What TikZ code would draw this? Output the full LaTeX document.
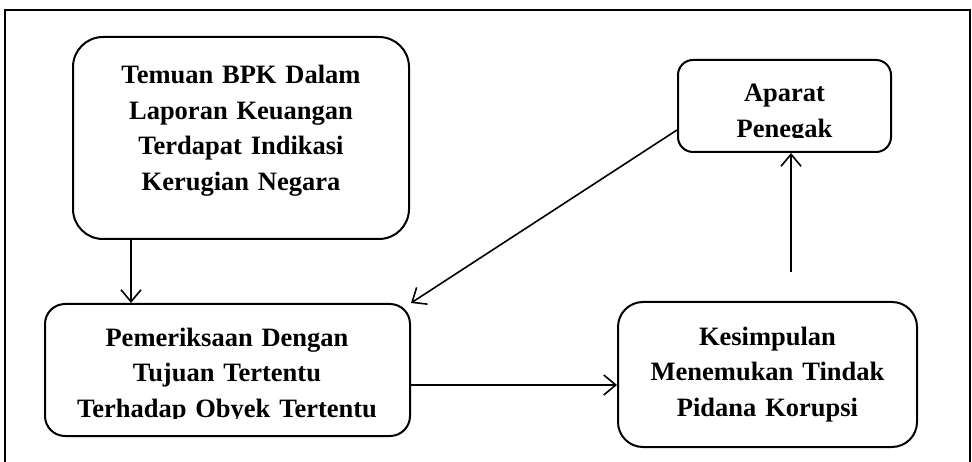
\documentclass[tikz,border=0pt]{standalone}
\usepackage{fontspec}
\setmainfont{Liberation Serif}
\usetikzlibrary{arrows.meta}
\begin{document}
\begin{tikzpicture}[x=1pt, y=-1pt, >={Straight Barb[length=12pt,width=20pt]},
  kotak/.style={draw, line width=2pt, inner sep=0pt},
  teks/.style={anchor=base, align=center, inner sep=0pt, font=\fontsize{26.5}{35.5}\selectfont\bfseries},
  panah/.style={->, line width=1.6pt}]
\useasboundingbox (0,0) rectangle (972,462);
% bingkai luar
\draw[line width=2.2pt] (5,462) -- (5,10) -- (970,10) -- (970,462);

% kotak-kotak
\node[kotak, rounded corners=30pt, minimum width=336pt, minimum height=202pt] (temuan) at (241,138) {};
\node[kotak, rounded corners=15pt, minimum width=213pt, minimum height=92pt] (aparat) at (784.5,106) {};
\node[kotak, rounded corners=20pt, minimum width=365pt, minimum height=132pt] (pemeriksaan) at (227.5,370) {};
\node[kotak, rounded corners=25pt, minimum width=299pt, minimum height=145pt] (kesimpulan) at (767.5,374.5) {};

% tulisan
\node[teks, text width=330pt] (temuanTxt) at (241,84) {Temuan BPK Dalam\\ Laporan Keuangan\\ Terdapat Indikasi\\ Kerugian Negara};
\begin{scope}
\clip (678,50) rectangle (891,137.5);
\node[teks, text width=205pt] (aparatTxt) at (784.5,102) {Aparat\\ Penegak};
\end{scope}
\begin{scope}
\clip (45,300) rectangle (410,418.5);
\node[teks, text width=355pt] (pemeriksaanTxt) at (227,346) {Pemeriksaan Dengan\\ Tujuan Tertentu\\ Terhadap Obyek Tertentu};
\end{scope}
\node[teks, text width=290pt] (kesimpulanTxt) at (767.5,345) {Kesimpulan\\ Menemukan Tindak\\ Pidana Korupsi};

% panah
\draw[panah] ([xshift=-110pt]temuan.south) -- ([xshift=-110pt]temuan.south |- pemeriksaan.north);
\draw[panah] ([yshift=-24pt]aparat.west) -- (pemeriksaan.north east);
\draw[panah] ([yshift=-15pt]pemeriksaan.east) -- ([yshift=-15pt]pemeriksaan.east -| kesimpulan.west);
\coordinate (mulai) at ([xshift=23.5pt,yshift=29pt]kesimpulan.north);
\draw[panah] (mulai) -- (mulai |- aparat.south);
\end{tikzpicture}
\end{document}
